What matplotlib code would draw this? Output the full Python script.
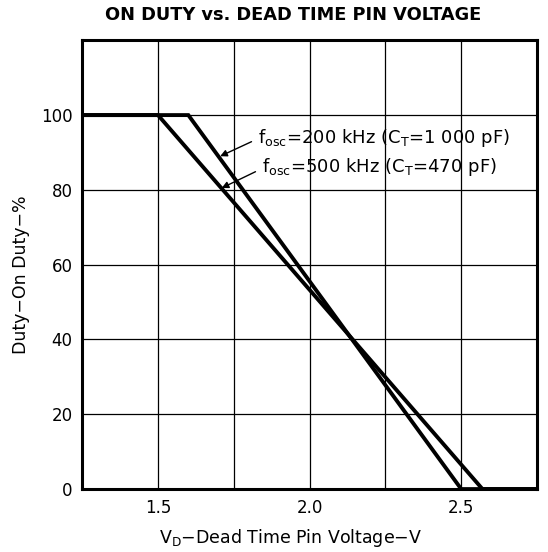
import matplotlib
matplotlib.use("Agg")
import matplotlib.pyplot as plt

plt.rcParams['font.family'] = ['DejaVu Sans']
plt.rcParams['mathtext.fontset'] = 'dejavusans'

# 200 kHz curve (CT = 1000 pF)
v_200 = [1.25, 1.6, 2.5, 2.75]
duty_200 = [100, 100, 0, 0]
# 500 kHz curve (CT = 470 pF)
v_500 = [1.25, 1.5, 2.57, 2.75]
duty_500 = [100, 100, 0, 0]

x_ticks = [1.5, 2.0, 2.5]
x_grid = [1.5, 1.75, 2.0, 2.25, 2.5]
y_ticks = [0, 20, 40, 60, 80, 100]

fig = plt.figure(figsize=(5.48, 5.52), dpi=100)
ax = fig.add_axes([0.150, 0.114, 0.830, 0.813])

for x in x_grid:
    ax.axvline(x, color='black', lw=0.9, zorder=1)
for y in y_ticks[1:]:
    ax.axhline(y, color='black', lw=0.9, zorder=1)

ax.plot(v_200, duty_200, color='black', lw=2.8, zorder=3, solid_joinstyle='miter')
ax.plot(v_500, duty_500, color='black', lw=2.8, zorder=3, solid_joinstyle='miter')

ax.set_xlim(1.25, 2.75)
ax.set_ylim(0, 120)
ax.set_xticks(x_ticks)
ax.set_xticklabels(['1.5', '2.0', '2.5'])
ax.set_yticks(y_ticks)
ax.tick_params(length=0, labelsize=12, pad=7)
for s in ax.spines.values():
    s.set_linewidth(2.2)

arrow = dict(arrowstyle='-|>', color='black', lw=1, mutation_scale=10,
             shrinkA=3, shrinkB=0, relpos=(0, 0.45))
ax.annotate('f$_{\\mathrm{osc}}$=200 kHz (C$_{\\mathrm{T}}$=1 000 pF)',
            xy=(1.705, 89), xytext=(1.83, 94), fontsize=13,
            va='center', ha='left', arrowprops=arrow)
ax.annotate('f$_{\\mathrm{osc}}$=500 kHz (C$_{\\mathrm{T}}$=470 pF)',
            xy=(1.71, 80.5), xytext=(1.843, 86), fontsize=13,
            va='center', ha='left', arrowprops=arrow)

ax.set_xlabel('V$_{\\mathrm{D}}$\u2212Dead Time Pin Voltage\u2212V', fontsize=12.5)
ax.xaxis.set_label_coords(0.457, -0.085)
ax.set_ylabel('Duty\u2212On Duty\u2212%', fontsize=12.5)
ax.yaxis.set_label_coords(-0.115, 0.478)
fig.text(0.535, 0.972, 'ON DUTY vs. DEAD TIME PIN VOLTAGE', ha='center', va='center',
         fontsize=12.8, fontweight='bold')

fig.savefig('out.png', dpi=100)
